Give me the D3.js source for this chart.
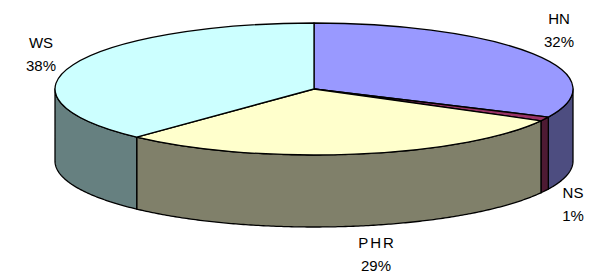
<!DOCTYPE html>
<html>
<head>
<meta charset="utf-8">
<script src="https://cdn.jsdelivr.net/npm/d3@7"></script>
<style>
  html, body { margin: 0; padding: 0; background: #fff; }
  svg { display: block; }
  text { font-family: "Liberation Sans", Arial, sans-serif; font-size: 15px; fill: #000; }
</style>
</head>
<body>
<svg id="chart" width="596" height="278"></svg>
<script>
// ---- data ----
const categories = ["HN", "NS", "PHR", "WS"];
const values = [32, 1, 29, 38];
const percentLabels = ["32%", "1%", "29%", "38%"];
const topColors = ["#9999FF", "#993366", "#FFFFCC", "#CCFFFF"];
const sideColors = ["#4D4D80", "#4D1A33", "#80806A", "#668080"];

// ---- layout ----
const W = 596, H = 278;
const cx = 314, cy = 89, rx = 259, ry = 66, depth = 72;
const k = ry / rx;
// label anchor (centre x, first baseline) for each category
const labelLayout = {
  HN:  { x: 559, y: 24 },
  NS:  { x: 573, y: 198 },
  PHR: { x: 376, y: 248, spacing: 2 },
  WS:  { x: 41,  y: 48 }
};
const lineGap = 23;

const svg = d3.select("#chart");

const pie = d3.pie().sort(null).value(d => d.value);
const data = categories.map((c, i) => ({ cat: c, value: values[i], pct: percentLabels[i], top: topColors[i], side: sideColors[i] }));
const arcsData = pie(data);

// projection of an angle (0 = 12 o'clock, clockwise) onto the ellipse
const px = a => cx + rx * Math.sin(a);
const py = (a, dz) => cy - ry * Math.cos(a) + dz;

// ---- side walls (front half only: angles PI/2 .. 3PI/2) ----
const gSide = svg.append("g");
arcsData.forEach(d => {
  const a0 = Math.max(d.startAngle, Math.PI / 2);
  const a1 = Math.min(d.endAngle, 3 * Math.PI / 2);
  if (a1 <= a0) return;
  const n = Math.max(4, Math.ceil((a1 - a0) / 0.01));
  const angles = d3.range(n + 1).map(i => a0 + (a1 - a0) * i / n);
  const pts = angles.map(a => [px(a), py(a, 0)])
    .concat(angles.slice().reverse().map(a => [px(a), py(a, depth)]));
  gSide.append("path")
    .attr("d", d3.line()(pts) + "Z")
    .attr("fill", d.data.side)
    .attr("stroke", "#000")
    .attr("stroke-width", 1.3)
    .attr("stroke-linejoin", "round");
});

// ---- top faces ----
const arc = d3.arc().innerRadius(0).outerRadius(rx);
svg.append("g")
  .attr("transform", `translate(${cx},${cy}) scale(1,${k})`)
  .selectAll("path")
  .data(arcsData)
  .join("path")
  .attr("d", arc)
  .attr("fill", d => d.data.top)
  .attr("stroke", "#000")
  .attr("stroke-width", 1.3)
  .attr("stroke-linejoin", "round")
  .attr("vector-effect", "non-scaling-stroke");

// ---- labels ----
const gLab = svg.append("g");
arcsData.forEach(d => {
  const L = labelLayout[d.data.cat];
  const sp = L.spacing || 0;
  const t = gLab.append("text").attr("text-anchor", "middle");
  t.append("tspan").attr("x", L.x + sp / 2).attr("y", L.y)
    .style("letter-spacing", sp + "px")
    .text(d.data.cat);
  t.append("tspan").attr("x", L.x).attr("y", L.y + lineGap).text(d.data.pct);
});
</script>
</body>
</html>
